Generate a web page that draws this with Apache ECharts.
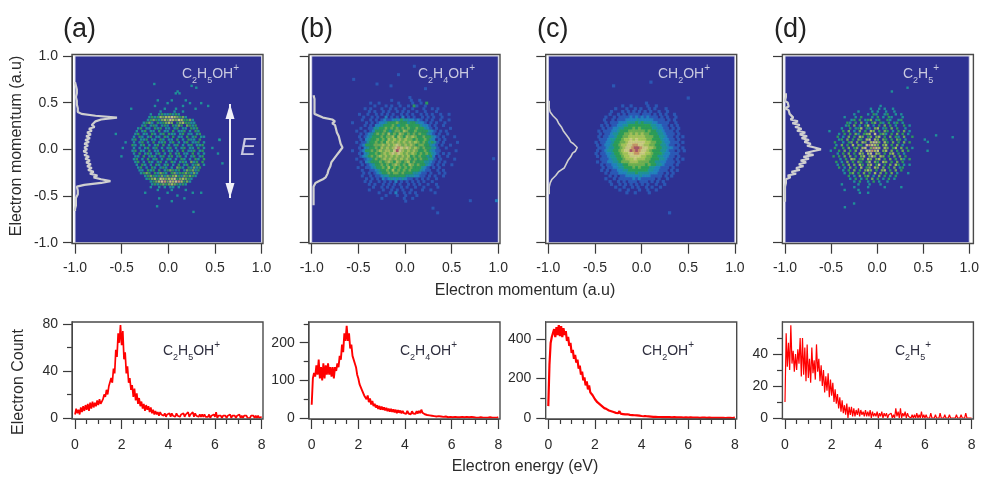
<!DOCTYPE html>
<html><head><meta charset="utf-8">
<style>html,body{margin:0;padding:0;background:#fff}#c{width:982px;height:477px}</style>
<script src="https://cdn.jsdelivr.net/npm/echarts@6/dist/echarts.min.js"></script>
</head><body><div id="c"></div>
<script>
const panelTags = ['(a)', '(b)', '(c)', '(d)'];
const ionRich = [
  '{m|C}{s|2}{m|H}{s|5}{m|OH}{u|+}',
  '{m|C}{s|2}{m|H}{s|4}{m|OH}{u|+}',
  '{m|CH}{s|2}{m|OH}{u|+}',
  '{m|C}{s|2}{m|H}{s|5}{u|+}'
];
// momentum images: 40x40 cells, -0.6..0.6, colour level per cell (0 = background)
const imageA = [
"0000000000000000000000000000000000000000",
"0000000000000000000000000000000000000000",
"0000000000000000300003000030000000000000",
"0000000000000000000300000003000300000000",
"0000000000000003000000000300000000300000",
"0000003000000000003000300000030000000000",
"0000000000000000030000300300000000000000",
"0000000000000300343343430000000000000000",
"0000000000000343465667654530000000000000",
"0000000000003454356576576445300000000000",
"0000000000034530434565045644330000000000",
"0000000000340343034304354054340000000000",
"0000000003403304340330340330434000000000",
"0000000030340330403304033403043000000000",
"0300000034033043034043303403303400000000",
"0000000304303403304304033040340330000000",
"0000000340334033043033040304330400000030",
"0000300303403040334034030340334030000000",
"0000000430340303404030340303403340000000",
"0003000303034034030340303403304030030000",
"0000000340330403304033030403340340000000",
"0000000304034303403040340330403030000300",
"0003000033040343034034034030340340000000",
"0000000340304034030430304303043040000000",
"0000000034030430340304303430534040000000",
"0000000030430304303403040340345030000000",
"0000000003403043034303054304353400000000",
"0000000003304340403454340354534000000000",
"0000000000345404354304534454353000000000",
"0000000000034543453545643545430000000000",
"0000000000003456476566745654300000000000",
"0000000000000345678576786453000000000000",
"0000000000000034345456543430000000000000",
"0000000000000300303033030000000000000000",
"0000000000000000300003000030000000000000",
"0000000000030000000300000000300300000000",
"0000000000000000000000030000000000000000",
"0000000000000000300000000300000000000000",
"0000000000000000000003000000000000000000",
"0000000000000000000000000000000000000000"];
const imageB = [
"0000000000000000000000000000000000000000",
"0000000000000000000001000000000000000000",
"0000000000000001000000100100000000000000",
"0000000100100000010000100104000000000000",
"0000000001000101001001041001000000000000",
"0000010100010010100100100010010100000000",
"0000000101001010010101001001000100000000",
"0001001001010101001010100101010010010000",
"0000010010100201010201010010101001000000",
"0000100101012112324332212101010010010000",
"0100001010122344454443443221010100100000",
"0000010102234445434454444322101001000000",
"0000100113344545454545445443210100001000",
"0010010124445434554654454444321010100000",
"0000101234545464546545454544321010010000",
"0001012344454556465465654454432101000100",
"0000102344545465656565545445432010100000",
"0010113445454656565656565454343101000010",
"0000124445556565676565654554432101001000",
"0001023445465656787676565454433100100000",
"0100124454565665797656565445432110000010",
"0001023445456567676565654545432101010000",
"0000123454565656565656454544342010010000",
"0010012345456565656565454544331010000100",
"0000102344454565465456454443321010100000",
"0000101234454545654546545443210101001000",
"0001001123445464545454544432101010000000",
"0000100112344546454545444321100101000000",
"0000010101234454554544433211010010100000",
"0000100101123344444433322110101001000000",
"0000001010102123232321101010100100000000",
"0000010100101010201010101010010000000000",
"0000000101001010101001010100100100000000",
"0000000010010101001010010010000100000000",
"0000000100001001010100100010010000000000",
"0000000000100010200101010000001000000000",
"0000000000000100010010001000000000000000",
"0000000000010000000100100000000000000000",
"0000000000000000000010000000000000000000",
"0000000000000000000000000000000000000000"];
const imageC = [
"0000000000000000000000000000000000000000",
"0000000000000000000000000000000000000000",
"0000000000000000000000000000000000000000",
"0000000000000000000001000000000000000000",
"0000000000000100100000100100000000000000",
"0000000000100010010100101000100000000000",
"0000000001000101010101010010010000000000",
"0000000010010101111011101010100100000000",
"0000000100101111212121211101010010000000",
"0000001001011122223222221111010100000000",
"0000000101112223334343332211110010000000",
"0000010101122334444444433221101010000000",
"0000001011223344454544443322110101000000",
"0000101112234445555554544332111010000000",
"0000010112334455656565544433211101000000",
"0000101122344556666665554433211010100000",
"0000011123344566767666554443221101000000",
"0001011223445567777776655443221110100000",
"0000101223445667788776655443321101000000",
"0000111233445677899877665443322110100000",
"0000101233445677989877654443321101010000",
"0001011223445667788776654443221110000000",
"0000101123344566777766554433221101000000",
"0000011123344566676665544433211010100000",
"0000101122334555666555544332211101000000",
"0000010112233445555554544332111010000000",
"0000001011223344454544433221110100000000",
"0000010101122334444444332211101010000000",
"0000000101112223334333322211010100000000",
"0000000010101122222322211110101000000000",
"0000000100101111121211111010010000000000",
"0000000010010101110111010101000000000000",
"0000000001001010101010100100100000000000",
"0000000000100100101001010010000000000000",
"0000000000001001000100100100000000000000",
"0000000000000010010000100000000000000000",
"0000000000000000000000000000000000000000",
"0000000000000000000000000000000000000000",
"0000000000000000000000000000000000000000",
"0000000000000000000000000000000000000000"];
const imageD = [
"0000000000000000000000000000000000000000",
"0000000000000000000000000000000000000000",
"0000000000000000000000000000000000000000",
"0000000000000000000000000000000000000000",
"0000000000000000000003000000000000000000",
"0000000000000000030030300300000000000000",
"0000000000000300003030030030000000000000",
"0000000000030000304300340030300000000000",
"0000000030003040003040304300030000000000",
"0000000000340403450340043003400000000000",
"0000000004304050304504304034030000000000",
"0000000034050304603040504030040300000000",
"0000000300403460430560340504003000000000",
"0030000405030504065040540304050300000000",
"0000003040405304560704530405040300000000",
"0000040305040650450560405043050040000000",
"0000003405040540670650540405403000000300",
"0000400304505065067750640504050400000000",
"0000030504060540787650560405030000000000",
"0000400405045067058760650460504030000000",
"0003004050405060778670560504050400000030",
"0000030405040650670650405604030000000000",
"0000404050504056057506504050504000000000",
"0000003040650450650560405040530400000000",
"0000040305040540460540650405040000000000",
"0000030405050640560470405064030300000000",
"0000004030504060450650504050340000000000",
"0000000304050405650405604050400000000000",
"0000000030450405040605040503000300000000",
"0000000004030504503050403040000000000000",
"0000000000304030405040304030000000000000",
"0000000000030400304030030000000000000000",
"0000000300000300030003000000000000000000",
"0000000000030000300000300000300000000000",
"0000000030000300000000000000000000000000",
"0000000000000300300000000000000000000000",
"0000000000000000000000000000000000000000",
"0000000000000000000000000000000000000000",
"0000000000000000000000000000000000000000",
"0000000000000000000000000000000000000000"];
const sparseA = [[0.1,0.62,3],[0.08,0.6,3],[0.12,0.6,3],[-0.15,0.7,3],[0.3,0.66,3],[0.25,0.68,3],[-0.12,-0.61,3],[0.27,-0.67,3],[0.55,0.1,3],[0.58,-0.15,3]];
const sparseB = [[0.1,0.89,1],[-0.07,0.8,1],[-0.3,0.7,1],[-0.15,0.68,1],[0.22,0.65,1],[-0.55,0.75,1],[0.7,-0.55,1],[0.98,-0.55,2],[0.95,-0.1,1],[0.3,-0.63,1],[0.35,-0.68,1]];
const sparseC = [[0.1,0.72,1],[-0.3,0.68,1],[0.3,-0.68,1],[0.5,0.55,1]];
const sparseD = [[0.16,0.62,3],[0.33,0.66,3],[0.64,0.15,3],[0.82,0.13,3],[0.55,0.08,3],[-0.25,-0.58,3],[-0.35,-0.62,3]];
// vertical projections: x value at y = top - 0.02*i
const profileTop = [0.72, 0.58, 0.52, 0.60];
const profileA = [-1,-1,-.99,-1,-.98,-.99,-.98,-.97,-.99,-.97,-.98,-.96,-.98,-.97,-.97,-.98,-.97,-.93,-.78,-.55,-.72,-.78,-.76,-.82,-.79,-.85,-.82,-.87,-.83,-.88,-.84,-.89,-.85,-.9,-.86,-.9,-.87,-.91,-.87,-.9,-.85,-.89,-.84,-.88,-.83,-.87,-.82,-.86,-.8,-.84,-.76,-.8,-.72,-.62,-.72,-.9,-.98,-.98,-.97,-.99,-.97,-.98,-.99,-.98,-.99,-.98,-.99,-.99,-1,-1];
const profileB = [-.98,-.98,-.97,-.98,-.97,-.98,-.97,-.98,-.97,-.97,-.97,-.96,-.88,-.78,-.75,-.78,-.75,-.77,-.74,-.76,-.73,-.75,-.71,-.73,-.7,-.72,-.69,-.7,-.67,-.67,-.7,-.71,-.73,-.73,-.76,-.75,-.79,-.77,-.8,-.79,-.82,-.8,-.83,-.81,-.85,-.88,-.92,-.96,-.97,-.98,-.97,-.98,-.98,-.98,-.98,-.98,-.98,-.98,-.98,-.98];
const profileC = [-.99,-.99,-.99,-.99,-.99,-.98,-.98,-.97,-.95,-.93,-.91,-.89,-.89,-.87,-.86,-.85,-.84,-.83,-.81,-.8,-.78,-.77,-.76,-.73,-.71,-.69,-.67,-.71,-.74,-.75,-.76,-.77,-.79,-.79,-.81,-.82,-.83,-.86,-.89,-.91,-.92,-.94,-.96,-.97,-.98,-.99,-.99,-.99,-.99,-.99,-.99];
const profileD = [-.99,-.98,-.99,-.97,-1,-.97,-.99,-.96,-1,-.96,-.98,-.95,-.97,-.91,-.94,-.86,-.92,-.84,-.89,-.82,-.87,-.78,-.84,-.76,-.82,-.74,-.79,-.72,-.76,-.68,-.61,-.7,-.78,-.69,-.8,-.74,-.83,-.77,-.85,-.8,-.88,-.84,-.93,-.88,-.97,-.94,-.99,-.97,-.99,-.97,-1,-.98,-1,-.98,-1,-.98,-1,-.99,-1];
// electron energy spectra: count at energy = 0.05*i
const spectrumA = [3,8,4,7,3,9,5,10,6,11,7,12,6,13,8,14,9,13,10,15,11,16,12,14,16,20,18,24,20,27,26,34,30,42,38,58,52,72,64,79,62,74,50,56,38,44,30,34,24,28,18,25,15,21,12,17,10,14,8,12,6,11,7,10,5,9,4,7,3,6,3,5,2,5,3,4,2,4,1,3,2,4,1,4,2,3,1,4,2,3,1,3,2,4,1,3,2,5,1,3,2,5,1,4,2,3,1,3,1,3,1,3,1,2,1,3,0,2,1,3,1,5,0,2,1,2,0,2,1,2,0,2,1,3,0,2,1,2,0,2,1,3,0,2,0,2,1,2,0,1,0,2,1,2,0,2,0,2,0,1,1];
const spectrumB = [35,105,120,110,140,115,155,105,135,100,145,105,140,115,145,115,135,110,135,105,135,125,145,135,165,155,195,175,225,205,245,205,225,185,195,165,165,145,135,115,105,90,90,75,78,60,65,50,60,42,52,36,45,32,38,28,34,24,32,22,30,22,28,20,27,18,25,17,24,16,23,15,22,13,21,14,20,12,19,13,18,11,19,12,17,10,18,12,17,11,18,12,19,13,22,14,19,10,15,8,13,7,11,6,9,5,8,4,9,5,8,4,7,3,8,4,6,2,7,3,6,2,7,3,5,2,6,2,5,3,7,2,6,3,8,2,7,3,6,2,5,1,4,1,5,2,6,1,4,1,5,1,6,2,4,1,5,1,4,1,2];
const spectrumC = [60,270,380,410,400,450,410,460,420,470,415,465,410,455,420,440,390,410,365,380,330,345,300,320,280,295,250,265,220,235,190,205,165,185,145,165,130,140,115,125,95,105,80,90,70,75,60,65,50,58,45,50,38,45,34,38,30,34,26,32,24,35,22,28,20,27,18,26,19,25,16,24,15,22,14,20,13,19,12,18,10,17,9,15,9,14,8,13,7,12,6,11,6,10,5,12,5,10,4,11,5,12,4,10,4,9,3,10,4,9,3,10,3,8,3,9,2,8,3,8,2,9,3,7,2,8,2,6,2,7,1,7,2,6,2,7,1,6,2,5,1,6,1,5,1,6,1,5,1,6,1,5,0,5,1,4,1,5,0,5,2];
const spectrumD = [10,53,32,47,30,58,34,42,29,40,30,43,34,50,26,50,27,44,23,46,25,37,22,44,28,36,24,46,29,37,23,33,20,30,16,26,17,28,13,24,14,22,10,18,9,15,6,13,4,11,3,8,2,9,0,7,2,7,1,6,1,5,2,6,1,5,2,4,1,5,1,4,1,5,0,4,1,3,1,4,0,3,1,4,0,3,1,3,0,2,1,3,0,2,0,6,1,4,0,6,0,3,1,4,0,3,1,2,0,2,0,2,0,3,0,2,0,4,0,2,0,2,0,1,0,3,0,1,0,2,0,1,0,3,0,1,0,2,0,1,0,2,0,1,0,1,0,2,0,1,0,2,0,1,0,3,0,1,0,1,0];
const countMajor = [[0,40,80],[0,100,200],[0,200,400],[0,20,40]];
const countMinor = [[20,60],[50,150,250],[100,300],[10,30,50]];
const countMax = [81.7,255,486,60];

const levelColors = ['#2E3192','#2a62bd','#1f93c6','#1ba79a','#2cb34c','#7cc943','#bde04f','#e6e97e','#e2ab5c','#c0605a'];
const FONT = 'Liberation Sans';
const TXT = '#2b2b2b';
const LINE = '#3a3a3a';
const plotLeft = [75, 311.7, 548.3, 785];
const frameLeft = [72, 309, 545.7, 782.4];
const plotW = 186.6;
const tagX = [63, 300, 537, 774];
const topIonX = [182, 418, 658, 903];
const botIonX = [163, 400, 642, 895];
const cellSize = [2.4, 3, 3.2, 2.4];
const redWidth = [1.7, 1.9, 2.2, 1.2];
const grayWidth = [2.2, 2.2, 1.6, 2.2];

const images = [imageA,imageB,imageC,imageD], sparse=[sparseA,sparseB,sparseC,sparseD];
const profiles=[profileA,profileB,profileC,profileD], spectra=[spectrumA,spectrumB,spectrumC,spectrumD];

function cells(rows, extra){
  const out=[];
  rows.forEach((r,j)=>{ for(let i=0;i<r.length;i++){ const v=+r[i]; if(v>0) out.push([-0.6+0.03*(i+0.5+(j%2?0.25:-0.25)),0.6-0.03*(j+0.5),v]); } });
  return out.concat(extra);
}
const lab = {fontFamily:FONT,fontSize:14,color:TXT};
const grids=[],xAxes=[],yAxes=[],series=[],g=[];
function tt(x,y,text,st,rot){return {type:'text',z:60,silent:true,x,y,rotation:rot||0,style:Object.assign({text,align:'left',verticalAlign:'middle',fontFamily:FONT},st)};}
function ion(x,y,text,col){
  return {type:'text',z:60,silent:true,x,y,style:{text,align:'left',verticalAlign:'middle',fontFamily:FONT,
    rich:{m:{fontSize:14,fontFamily:FONT,fill:col,color:col,lineHeight:22,verticalAlign:'middle'},
          s:{fontSize:9,fontFamily:FONT,fill:col,color:col,lineHeight:14,verticalAlign:'bottom'},
          u:{fontSize:10,fontFamily:FONT,fill:col,color:col,lineHeight:9,verticalAlign:'top'}}}};
}
for(let k=0;k<4;k++){
  // top: momentum image
  grids.push({left:plotLeft[k],top:56,width:plotW,height:186.7,show:true,backgroundColor:'#2E3192',borderColor:'#dcdcec',borderWidth:1});
  const gi=grids.length-1;
  xAxes.push({gridIndex:gi,type:'value',position:'bottom',min:-1,max:1,interval:0.5,offset:1,
    axisLine:{onZero:false,lineStyle:{color:LINE,width:1}},axisTick:{length:10,lineStyle:{color:LINE,width:1.2}},splitLine:{show:false},
    axisLabel:Object.assign({margin:17,formatter:v=>v.toFixed(1),showMinLabel:true,showMaxLabel:true},lab)});
  yAxes.push({gridIndex:gi,type:'value',position:'left',min:-1,max:1,interval:0.5,offset:3,
    axisLine:{onZero:false,lineStyle:{color:LINE,width:1}},axisTick:{length:9,lineStyle:{color:LINE,width:1.2}},splitLine:{show:false},
    axisLabel:Object.assign({margin:14,show:k===0,formatter:v=>v.toFixed(1)},lab)});
  const yi=yAxes.length-1;
  series.push({type:'scatter',xAxisIndex:gi,yAxisIndex:yi,data:cells(images[k],sparse[k]),symbol:'rect',symbolSize:cellSize[k],
    itemStyle:{color:p=>levelColors[p.value[2]]},silent:true,animation:false});
  series.push({type:'line',xAxisIndex:gi,yAxisIndex:yi,data:profiles[k].map((x,i)=>[x,profileTop[k]-0.02*i]),showSymbol:false,
    lineStyle:{color:'#cfcfcf',width:grayWidth[k]},silent:true,animation:false,z:5});
  // bottom: spectrum
  grids.push({left:plotLeft[k],top:322,width:plotW,height:96});
  const gb=grids.length-1;
  xAxes.push({gridIndex:gb,type:'value',position:'bottom',min:0,max:8,interval:2,offset:1,
    axisLine:{onZero:false,lineStyle:{color:LINE,width:1}},axisTick:{length:10,lineStyle:{color:LINE,width:1.2}},
    minorTick:{show:true,splitNumber:4,length:5,lineStyle:{color:LINE,width:1.2}},splitLine:{show:false},minorSplitLine:{show:false},
    axisLabel:Object.assign({margin:19,showMinLabel:true,showMaxLabel:true},lab)});
  yAxes.push({gridIndex:gb,type:'value',position:'left',min:0,max:countMax[k],offset:3,
    axisLine:{onZero:false,lineStyle:{color:LINE,width:1}},axisTick:{length:5,customValues:countMinor[k],lineStyle:{color:LINE,width:1.2}},
    axisLabel:{show:false},splitLine:{show:false}});
  yAxes.push({gridIndex:gb,type:'value',position:'left',min:0,max:countMax[k],offset:3,
    axisLine:{onZero:false,lineStyle:{color:LINE,width:1}},axisTick:{length:9,customValues:countMajor[k],lineStyle:{color:LINE,width:1.2}},
    axisLabel:Object.assign({margin:14,customValues:countMajor[k]},lab),splitLine:{show:false}});
  series.push({type:'line',xAxisIndex:gb,yAxisIndex:yAxes.length-1,data:spectra[k].map((y,i)=>[0.05*i,y]),showSymbol:false,
    lineStyle:{color:'#ff0000',width:redWidth[k]},silent:true,animation:false,clip:true,z:5});
  // frames
  [[54.5,189],[322,97]].forEach(f=>g.push({type:'rect',z:50,silent:true,shape:{x:frameLeft[k],y:f[0],width:191,height:f[1]},style:{fill:'none',stroke:'#4a4a4a',lineWidth:1.4}}));
  g.push(tt(tagX[k],30,panelTags[k],{fontSize:27,fill:'#222'}));
  g.push(ion(topIonX[k],74,ionRich[k],'#c9c9e0'));
  g.push(ion(botIonX[k],351,ionRich[k],'#2f2f3f'));
}
g.push(tt(17,146,'Electron momentum (a.u)',{fontSize:16,fill:TXT,align:'center'},Math.PI/2));
g.push(tt(19,382,'Electron Count',{fontSize:16,fill:TXT,align:'center'},Math.PI/2));
g.push(tt(525,291,'Electron momentum (a.u)',{fontSize:16,fill:TXT,align:'center'}));
g.push(tt(525,467,'Electron energy (eV)',{fontSize:16,fill:TXT,align:'center'}));
g.push(tt(240,148,'E',{fontSize:24,fontStyle:'italic',fill:'#c9c9e0'}));
// polarisation arrow
g.push({type:'line',z:60,silent:true,shape:{x1:230,y1:104,x2:230,y2:198},style:{stroke:'#f2f2f8',lineWidth:2}});
g.push({type:'polygon',z:60,silent:true,shape:{points:[[230,104],[234.5,119],[225.5,119]]},style:{fill:'#f2f2f8'}});
g.push({type:'polygon',z:60,silent:true,shape:{points:[[230,198],[234.5,183],[225.5,183]]},style:{fill:'#f2f2f8'}});

const chart=echarts.init(document.getElementById('c'),null,{renderer:'canvas'});
chart.setOption({animation:false,backgroundColor:'#fff',grid:grids,xAxis:xAxes,yAxis:yAxes,series,graphic:{elements:g}});
</script></body></html>
